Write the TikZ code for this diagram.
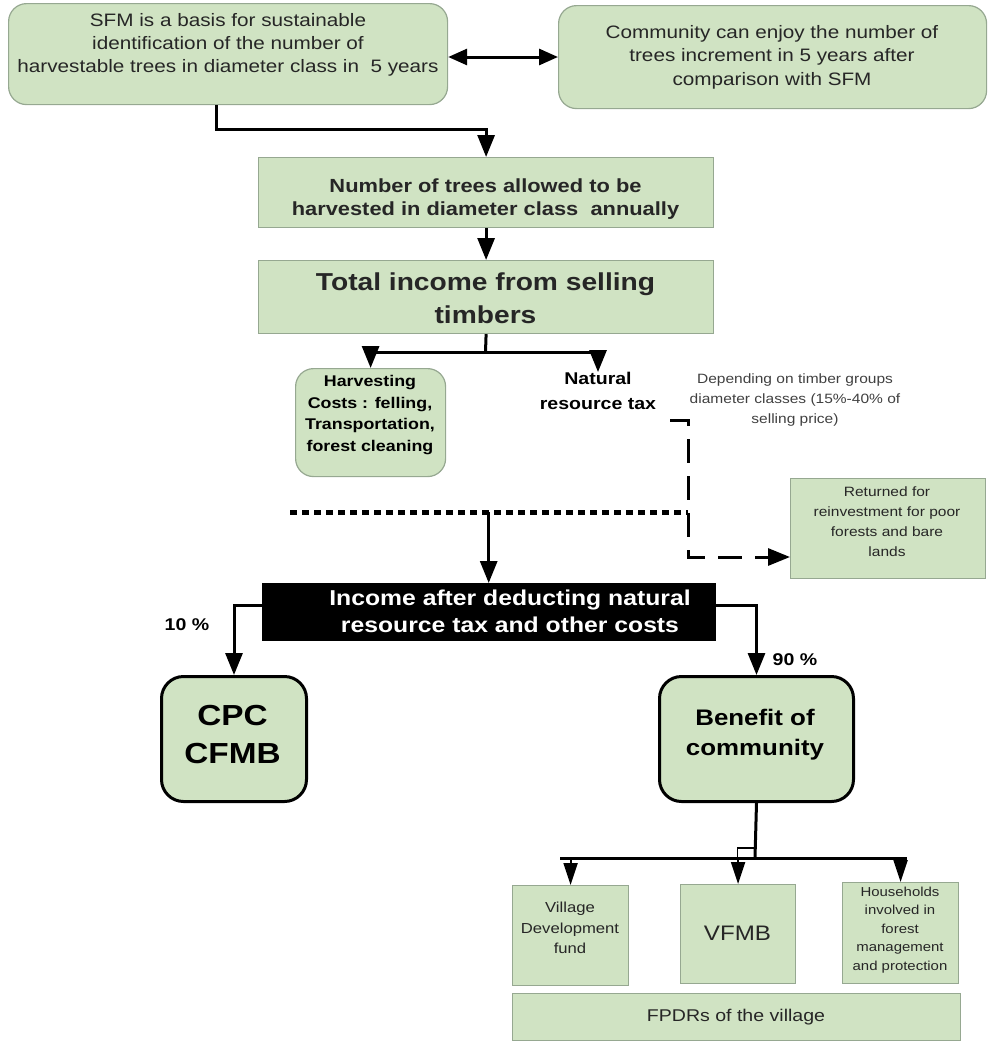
\documentclass[tikz,border=0pt]{standalone}
\usepackage{fontspec}
\setmainfont{Liberation Sans}[FakeStretch=1.15]
\usetikzlibrary{arrows.meta}
\definecolor{gfill}{RGB}{208,227,195}
\definecolor{gedge}{RGB}{150,168,145}
\newcommand{\myfs}[2]{\fontsize{#1}{#2}\selectfont}
\begin{document}
\begin{tikzpicture}[x=1pt,y=-1pt,
  gbox/.style={draw=gedge,fill=gfill,line width=1.2pt,inner sep=0pt,anchor=north west},
  rbox/.style={gbox,rounded corners=18pt},
  kbox/.style={gbox,draw=black,line width=3pt,rounded corners=22pt},
  txt/.style={align=center,inner sep=0pt,text=black!85},
  ln/.style={line width=3pt},
  conn/.style={ln,-{Triangle[length=22pt,width=17pt]}},
  sconn/.style={line width=2pt,-{Triangle[length=22pt,width=14pt]}},
  dconn/.style={ln,{Triangle[length=19pt,width=16pt]}-{Triangle[length=19pt,width=16pt]}},
  dashconn/.style={ln,dash pattern=on 24pt off 13pt,-{Triangle[length=22pt,width=17pt]}},
  dotln/.style={line width=5pt,dash pattern=on 7pt off 5pt}
]
\useasboundingbox (0,0) rectangle (991,1042);

% top boxes
\node[rbox,minimum width=439pt,minimum height=101pt] (a) at (8,3) {};
\node[txt,font=\myfs{18}{23}] (at) at (228,45) {SFM is a basis for sustainable\\identification of the number of\\harvestable trees in diameter class in\ \ 5 years};
\node[rbox,minimum width=428pt,minimum height=103pt] (b) at (558,5) {};
\node[txt,font=\myfs{18}{23.5}] (bt) at (772,57) {Community can enjoy the number of\\trees increment in 5 years after\\comparison with SFM};
\draw[dconn] (a.east |- 0,57) -- (b.west |- 0,57);

% C and D
\node[gbox,minimum width=455pt,minimum height=70pt] (c) at (258,157) {};
\node[txt,font=\bfseries\myfs{19}{23}] (ct) at (485.5,199.5) {Number of trees allowed to be\\harvested in diameter class\ \ annually};
\node[gbox,minimum width=455pt,minimum height=73pt] (d) at (258,260) {};
\node[txt,font=\bfseries\myfs{24.5}{33}] (dt) at (485.5,298) {Total income from selling\\timbers};
\draw[conn] ([xshift=-12pt]a.south) -- ++(0,24) -| (c.north);
\draw[conn] (c.south) -- (d.north);

% branches
\node[rbox,minimum width=150pt,minimum height=108pt] (e) at (295,368) {};
\node[txt,font=\bfseries\myfs{15.5}{21.5},text=black] (et) at (370,415) {Harvesting\\Costs : felling,\\Transportation,\\forest cleaning};
\node[txt,font=\bfseries\myfs{17}{25},text=black] (tax) at (598,391) {Natural\\resource tax};
\coordinate (dj) at (485.5,352);
\draw[ln] (d.south) -- (dj);
\draw[conn] (dj) -| (e.north);
\draw[conn] (dj) -| (tax.north);

\node[txt,font=\myfs{13.5}{20},text=black!75] (dep) at (795,400) {Depending on timber groups\\diameter classes (15\%-40\% of\\selling price)};

\node[gbox,minimum width=195pt,minimum height=100pt] (f) at (790,478) {};
\node[txt,font=\myfs{13.5}{20}] (ft) at (887,522) {Returned for\\reinvestment for poor\\forests and bare\\lands};

\coordinate (tx) at (670,420);
\draw[dashconn] (tx) -- (688,420) -- (688,557) -- (f.west |- 0,557);

% dotted line and black box
\coordinate (dl) at (290,512);
\coordinate (dr) at (688,512);
\draw[dotln] (dl) -- (dr);
\node[draw=black,fill=black,minimum width=453pt,minimum height=57pt,anchor=north west,inner sep=0pt] (g) at (262,583) {};
\node[txt,text=white,font=\bfseries\myfs{21.5}{27}] (gt) at (510,611.5) {Income after deducting natural\\resource tax and other costs};
\draw[conn] (dl -| g.north) -- (g.north);

% CPC and Benefit
\node[kbox,minimum width=145pt,minimum height=125pt] (cpc) at (160,675) {};
\node[txt,font=\bfseries\myfs{29}{38},text=black] (cpct) at (232.5,735) {CPC\\CFMB};
\node[kbox,minimum width=194pt,minimum height=125pt] (ben) at (658,675) {};
\node[txt,font=\bfseries\myfs{22.5}{30},text=black] (bent) at (755,735) {Benefit of\\community};
\draw[conn] (g.west |- 0,605) -| (cpc.north);
\draw[conn] (g.east |- 0,605) -| (ben.north);
\node[txt,font=\bfseries\myfs{17}{20},text=black] (p10) at (187,625) {10 \%};
\node[txt,font=\bfseries\myfs{17}{20},text=black] (p90) at (795,660) {90 \%};

% bottom boxes
\node[gbox,minimum width=116pt,minimum height=100pt] (h1) at (512,885) {};
\node[txt,font=\myfs{14.5}{20.5}] (h1t) at (570,928) {Village\\Development\\fund};
\node[gbox,minimum width=115pt,minimum height=99pt] (h2) at (680,884) {};
\node[txt,font=\myfs{21}{25}] (h2t) at (737.5,933) {VFMB};
\node[gbox,minimum width=116pt,minimum height=101pt] (h3) at (842,882) {};
\node[txt,font=\myfs{13}{18.5}] (h3t) at (900,930) {Households\\involved in\\forest\\management\\and protection};
\node[gbox,minimum width=448pt,minimum height=47pt] (h4) at (512,993) {};
\node[txt,font=\myfs{17}{20}] (h4t) at (736,1017) {FPDRs of the village};

\coordinate (bj) at (755,858);
\coordinate (hl) at (560,858);
\coordinate (hr) at (907,858);
\draw[ln] (ben.south) -- (bj);
\draw[ln] (hl) -- (hr);
\draw[line width=1.5pt] (755,848) -- (737.5,848) -- (737.5,858);
\draw[sconn] (h1.north |- hl) -- (h1.north);
\draw[sconn] (h2.north |- hl) -- (h2.north);
\draw[sconn] (h3.north |- hl) -- (h3.north);
\end{tikzpicture}
\end{document}
